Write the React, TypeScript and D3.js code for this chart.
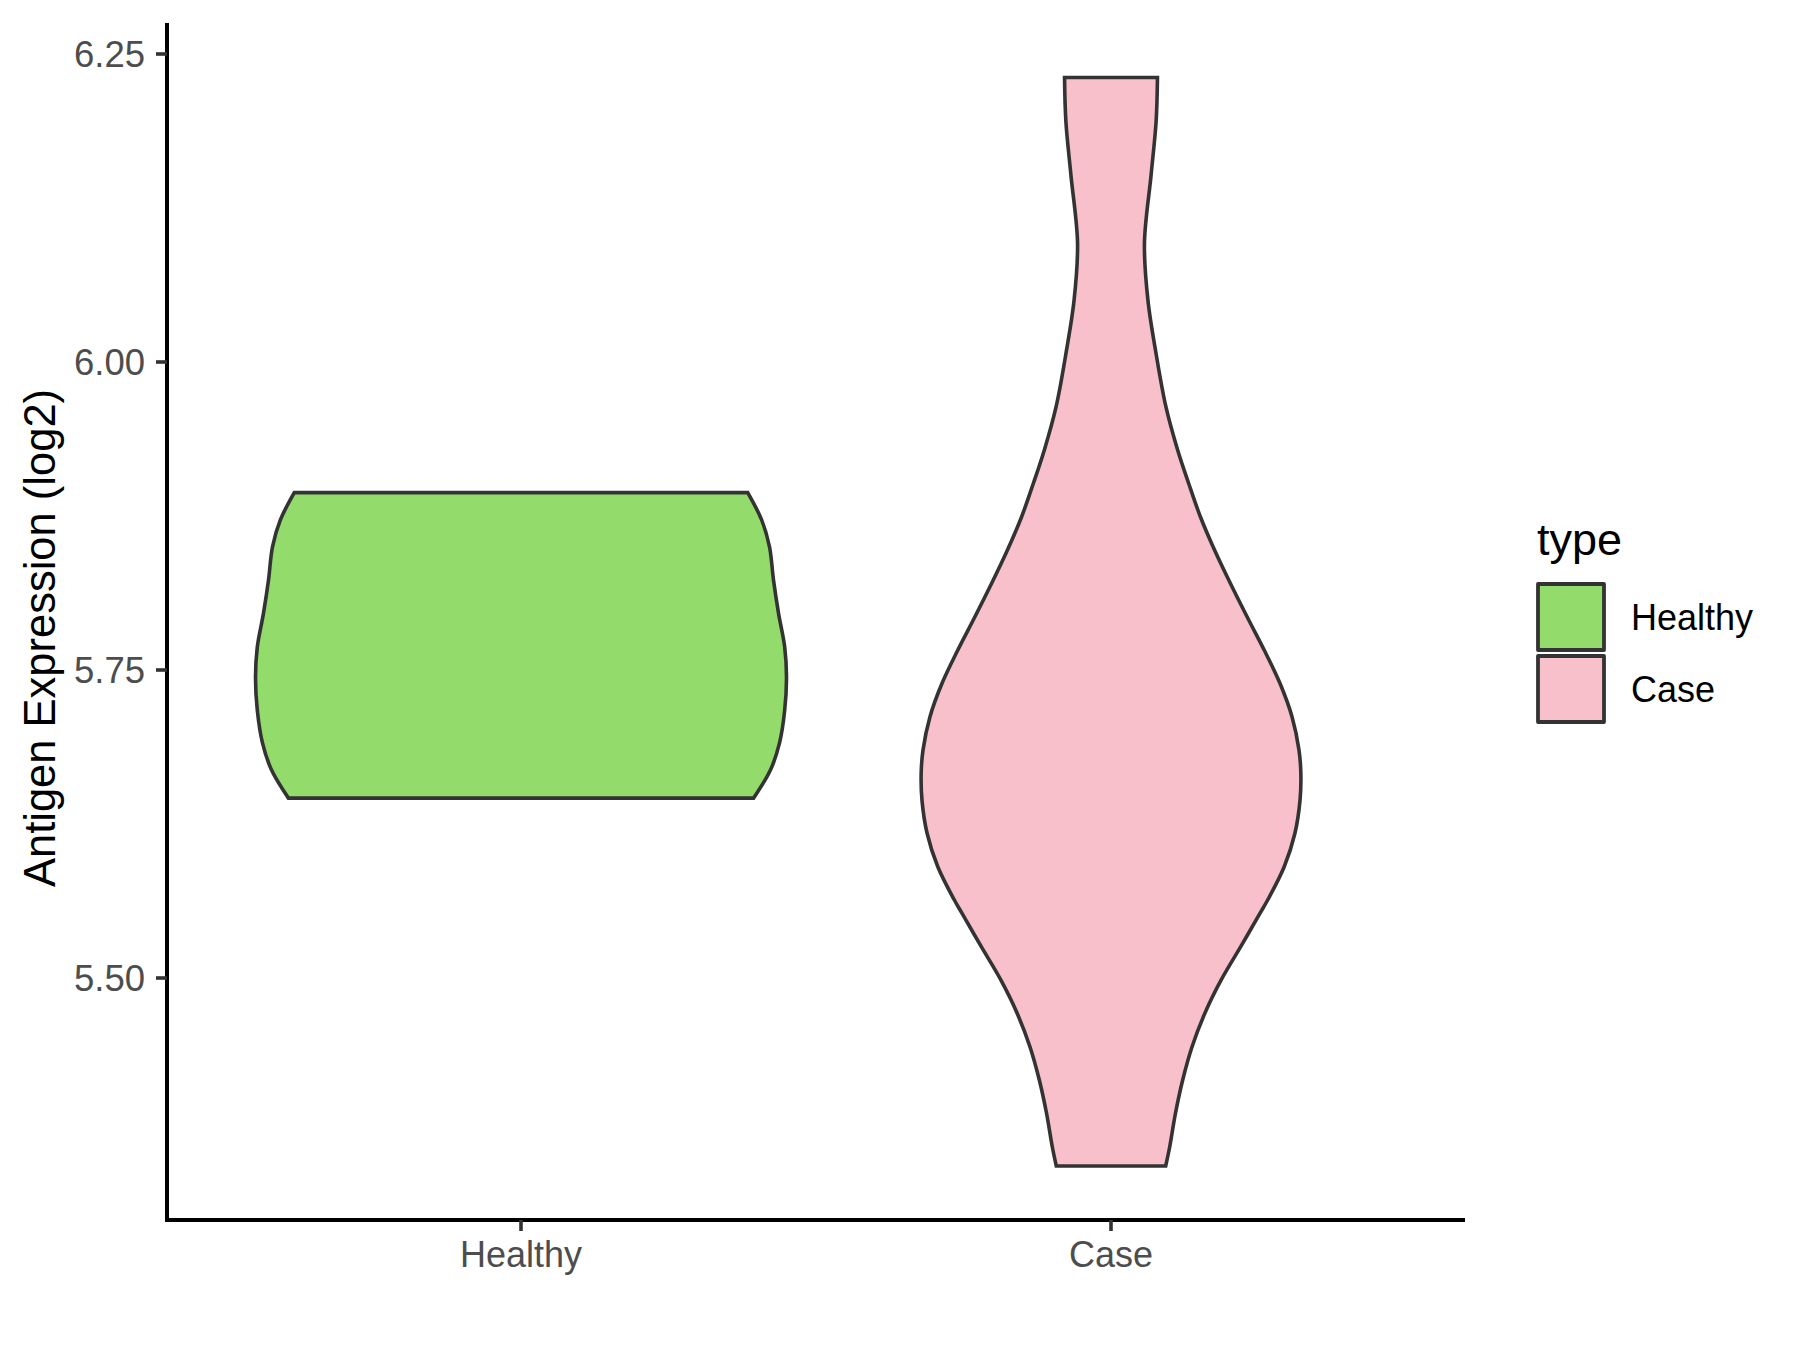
import React from "react";
import * as d3 from "d3";

const categories = ["Healthy", "Case"];
const fillColors = ["#93DB6B", "#F7C0CB"];
const yTicks = [5.5, 5.75, 6.0, 6.25];

// violin outlines: expression value and relative density width (1 = widest violin)
const healthyValues = [5.894, 5.872, 5.85, 5.823, 5.796, 5.769, 5.744, 5.717, 5.691, 5.669, 5.646];
const healthyWidths = [0.854, 0.906, 0.936, 0.951, 0.97, 0.993, 1.0, 0.993, 0.974, 0.94, 0.876];

const caseValues = [
  6.2309, 6.1956, 6.1518, 6.0966, 6.0503, 6.0065, 5.9635, 5.9286, 5.9018, 5.8742, 5.8474, 5.8206,
  5.793, 5.7662, 5.7394, 5.7119, 5.6851, 5.6664, 5.6445, 5.6177, 5.5901, 5.5633, 5.5528, 5.5252,
  5.4984, 5.4716, 5.444, 5.4172, 5.3904, 5.3628, 5.3474,
];
const caseWidths = [
  0.175, 0.17, 0.151, 0.126, 0.139, 0.17, 0.207, 0.251, 0.292, 0.337, 0.39, 0.449,
  0.513, 0.577, 0.636, 0.682, 0.708, 0.715, 0.712, 0.693, 0.652, 0.59, 0.562, 0.488,
  0.415, 0.354, 0.305, 0.27, 0.243, 0.221, 0.206,
];

const FONT = "'Liberation Sans', Arial, sans-serif";

export default function App() {
  const W = 1800;
  const H = 1350;
  const left = 167;
  const right = 1465;
  const top = 23;
  const bottom = 1220;

  const x = d3.scaleLinear().domain([0.4, 2.6]).range([left, right]);
  const y = d3.scaleLinear().domain([5.5, 6.25]).range([978, 54]);

  const series = [
    { name: categories[0], pos: 1, values: healthyValues, widths: healthyWidths, fill: fillColors[0] },
    { name: categories[1], pos: 2, values: caseValues, widths: caseWidths, fill: fillColors[1] },
  ];

  const paths = series.map((s) => {
    const pts = s.values.map((v, i) => [v, s.widths[i]] as [number, number]);
    const area = d3
      .area<[number, number]>()
      .y((d) => y(d[0]))
      .x0((d) => x(s.pos - 0.45 * d[1]))
      .x1((d) => x(s.pos + 0.45 * d[1]))
      .curve(d3.curveCatmullRom.alpha(0.5));
    return area(pts) || "";
  });

  const legendX = 1538;
  const legendY0 = 584;
  const keySize = 66;

  return (
    <svg
      width={W}
      height={H}
      style={{ position: "absolute", left: 0, top: 0, display: "block", background: "#fff" }}
    >
      <rect x={0} y={0} width={W} height={H} fill="#fff" />
      {series.map((s, i) => (
        <path key={s.name} d={paths[i]} fill={s.fill} stroke="#333333" strokeWidth={3.6} />
      ))}
      {/* axes */}
      <line x1={left} x2={left} y1={top} y2={bottom + 2} stroke="#000" strokeWidth={4} />
      <line x1={left - 2} x2={right} y1={bottom} y2={bottom} stroke="#000" strokeWidth={4} />
      {yTicks.map((t) => (
        <g key={t}>
          <line x1={left - 11} x2={left} y1={y(t)} y2={y(t)} stroke="#333333" strokeWidth={3.6} />
          <text
            x={left - 22}
            y={y(t)}
            dy="0.36em"
            textAnchor="end"
            fontFamily={FONT}
            fontSize={36.5}
            fill="#4D4D4D"
          >
            {t.toFixed(2)}
          </text>
        </g>
      ))}
      {series.map((s) => (
        <g key={s.name}>
          <line x1={x(s.pos)} x2={x(s.pos)} y1={bottom} y2={bottom + 11} stroke="#333333" strokeWidth={3.6} />
          <text
            x={x(s.pos)}
            y={bottom + 47}
            textAnchor="middle"
            fontFamily={FONT}
            fontSize={36}
            fill="#4D4D4D"
          >
            {s.name}
          </text>
        </g>
      ))}
      <text
        transform={`translate(${55},${638}) rotate(-90)`}
        textAnchor="middle"
        fontFamily={FONT}
        fontSize={43.5}
        fill="#000"
      >
        Antigen Expression (log2)
      </text>
      {/* legend */}
      <text x={legendX - 1} y={555} fontFamily={FONT} fontSize={45} fill="#000">
        type
      </text>
      {series.map((s, i) => (
        <g key={s.name}>
          <rect
            x={legendX}
            y={legendY0 + i * (keySize + 6)}
            width={keySize}
            height={keySize}
            fill={s.fill}
            stroke="#333333"
            strokeWidth={3.8}
            strokeLinejoin="round"
          />
          <text
            x={legendX + keySize + 27}
            y={legendY0 + i * (keySize + 6) + keySize / 2}
            dy="0.36em"
            fontFamily={FONT}
            fontSize={36}
            fill="#000"
          >
            {s.name}
          </text>
        </g>
      ))}
    </svg>
  );
}
